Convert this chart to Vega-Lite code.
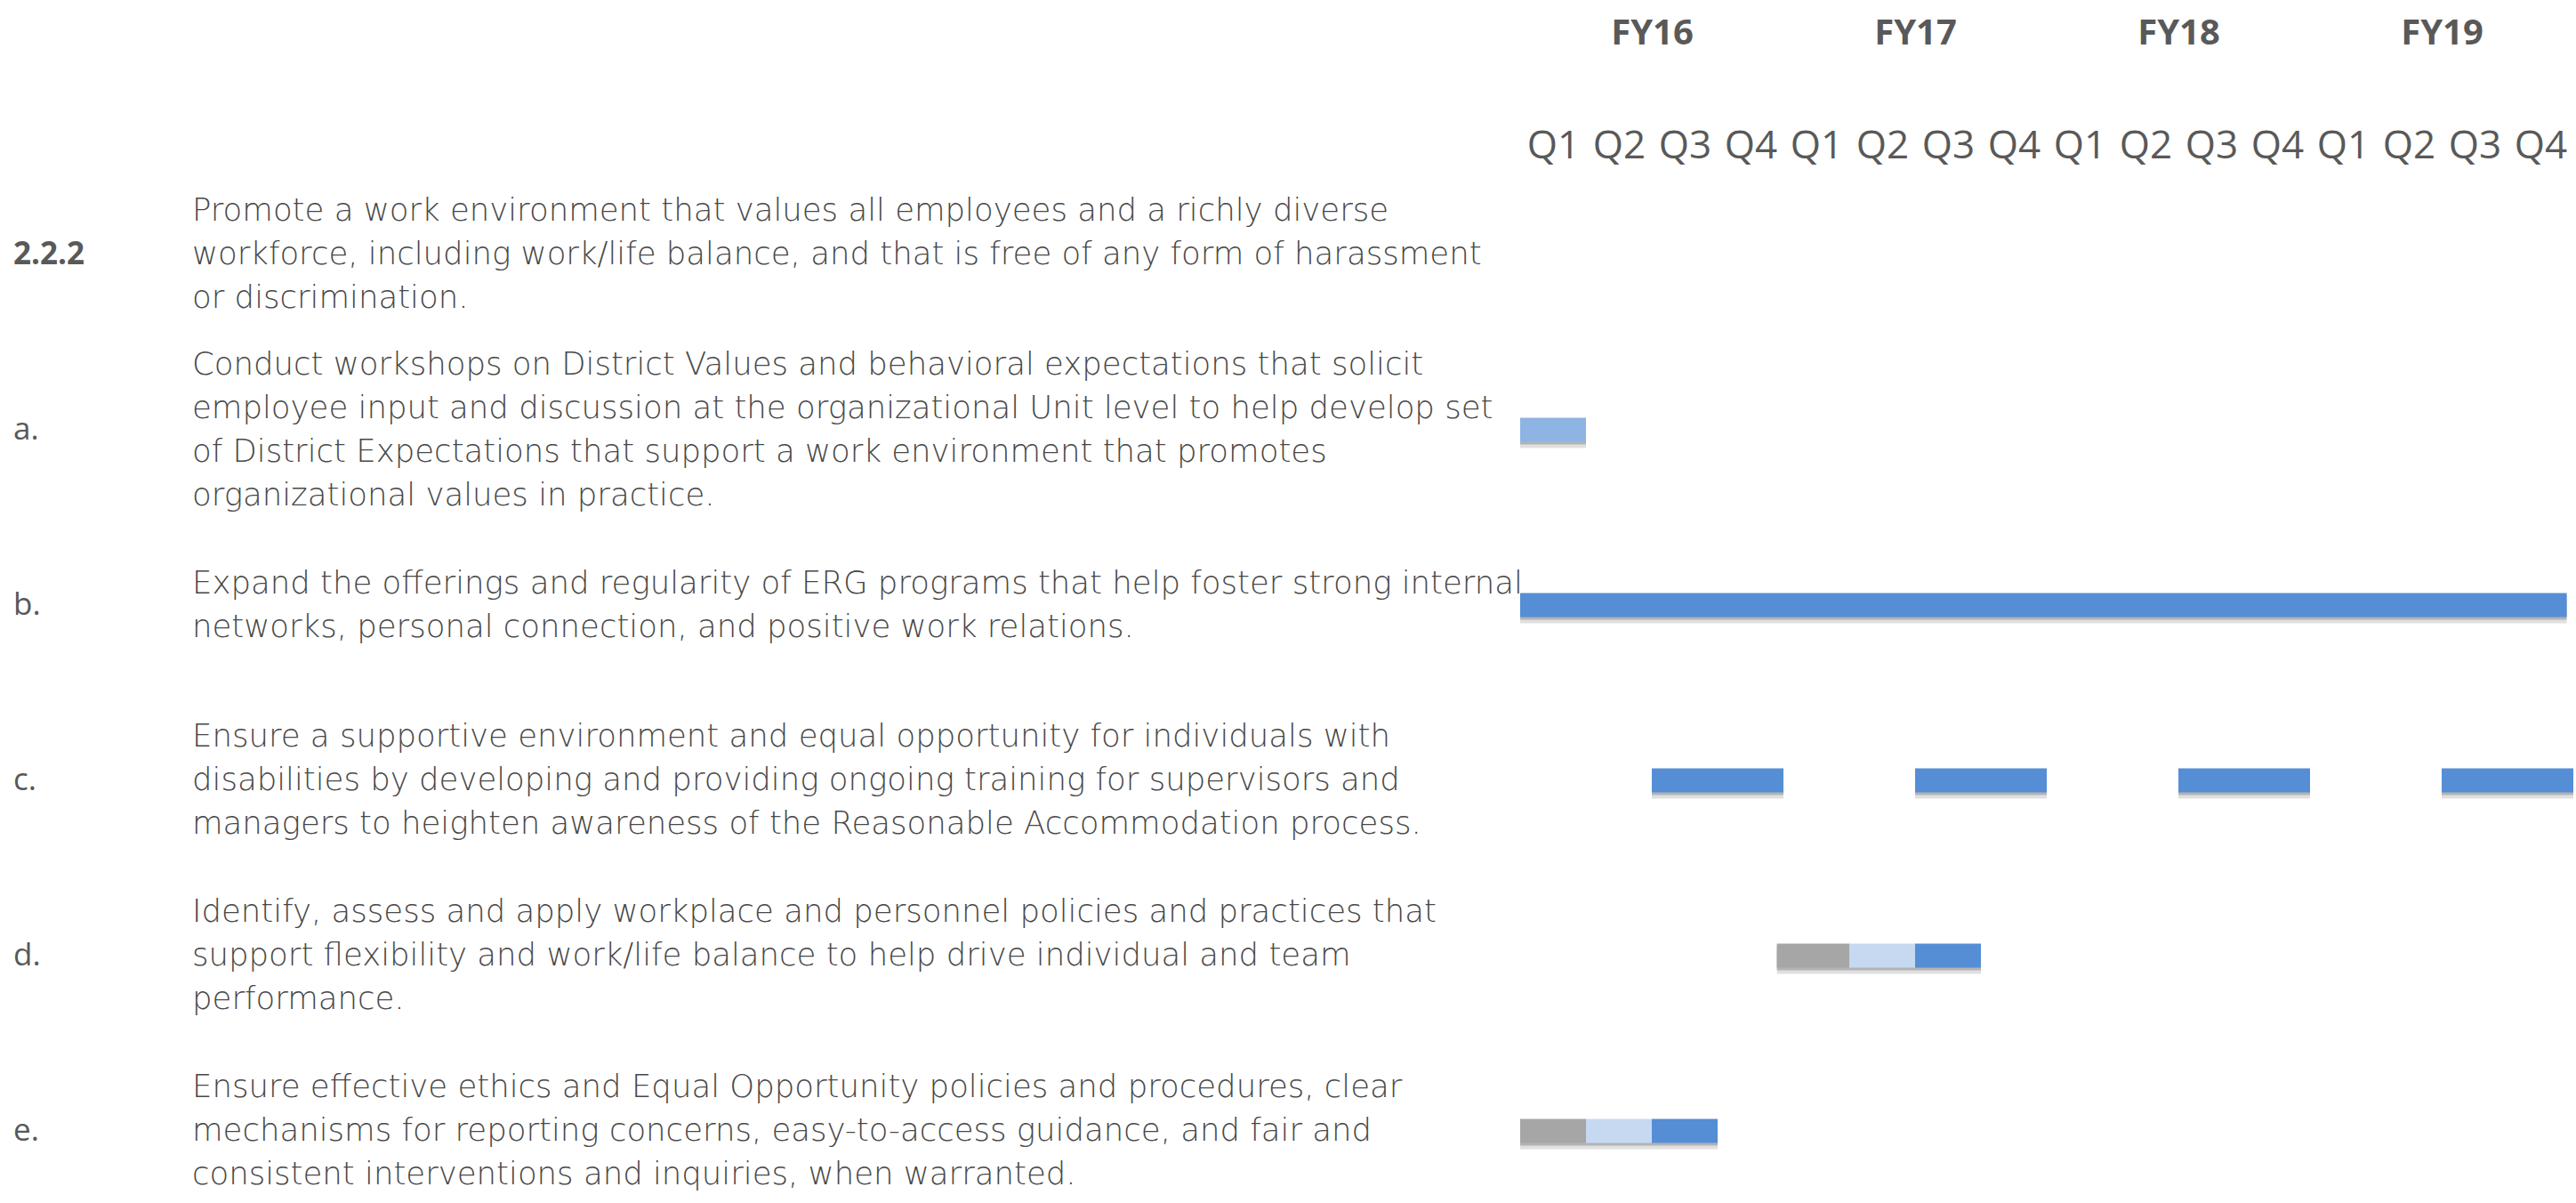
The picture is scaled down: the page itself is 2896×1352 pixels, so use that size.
{
  "$schema": "https://vega.github.io/schema/vega-lite/v6.json",
  "background": "white",
  "padding": {"left": 15, "top": 17, "right": 0, "bottom": 0},
  "bounds": "flush",
  "spacing": 0,
  "config": {
    "view": {"stroke": null},
    "text": {"font": "Open Sans"},
    "axis": {"labelFont": "Open Sans", "grid": false, "domain": false, "ticks": false}
  },
  "datasets": {
    "items": [
      {"item": "2.2.2", "level": "Goal", "desc": "Promote a work environment that values all employees and a richly diverse\nworkforce, including work/life balance, and that is free of any form of harassment\nor discrimination."},
      {"item": "a.", "level": "Action", "desc": "Conduct workshops on District Values and behavioral expectations that solicit\nemployee input and discussion at the organizational Unit level to help develop set\nof  District Expectations that support a work environment that promotes\norganizational values in practice."},
      {"item": "b.", "level": "Action", "desc": "Expand the offerings and regularity of ERG programs that help foster strong internal\nnetworks, personal connection, and positive work relations."},
      {"item": "c.", "level": "Action", "desc": "Ensure a supportive environment and equal opportunity for individuals with\ndisabilities by developing and providing ongoing training for supervisors and\nmanagers to heighten awareness of the Reasonable Accommodation process."},
      {"item": "d.", "level": "Action", "desc": "Identify, assess and apply workplace and personnel policies and practices that\nsupport flexibility and work/life balance to help drive individual and team\nperformance."},
      {"item": "e.", "level": "Action", "desc": "Ensure effective ethics and Equal Opportunity policies and procedures, clear\nmechanisms for reporting concerns, easy-to-access guidance, and fair and\nconsistent interventions and inquiries, when warranted."}
    ],
    "bars": [
      {"item": "a.", "start": 0, "end": 1, "stage": "Workshop"},
      {"item": "b.", "start": 0, "end": 15.9, "stage": "Implement"},
      {"item": "c.", "start": 2, "end": 4, "stage": "Implement"},
      {"item": "c.", "start": 6, "end": 8, "stage": "Implement"},
      {"item": "c.", "start": 10, "end": 12, "stage": "Implement"},
      {"item": "c.", "start": 14, "end": 16, "stage": "Implement"},
      {"item": "d.", "start": 3.9, "end": 5, "stage": "Assess"},
      {"item": "d.", "start": 5, "end": 6, "stage": "Develop"},
      {"item": "d.", "start": 6, "end": 7, "stage": "Implement"},
      {"item": "e.", "start": 0, "end": 1, "stage": "Assess"},
      {"item": "e.", "start": 1, "end": 2, "stage": "Develop"},
      {"item": "e.", "start": 2, "end": 3, "stage": "Implement"}
    ]
  },
  "hconcat": [
    {
      "width": 201,
      "height": 1103,
      "data": {"name": "items"},
      "layer": [
        {
          "transform": [{"filter": "datum.level == 'Goal'"}],
          "mark": {"type": "text", "align": "left", "baseline": "middle", "fontSize": 35, "fontWeight": "bold", "color": "#595959"},
          "encoding": {
            "x": {"value": 0},
            "y": {"field": "item", "type": "nominal", "scale": {"type": "point", "domain": ["2.2.2", "a.", "b.", "c.", "d.", "e."], "padding": 0.3}, "axis": null},
            "text": {"field": "item"}
          }
        },
        {
          "transform": [{"filter": "datum.level == 'Action'"}],
          "mark": {"type": "text", "align": "left", "baseline": "middle", "fontSize": 35, "color": "#595959"},
          "encoding": {
            "x": {"value": 0},
            "y": {"field": "item", "type": "nominal", "scale": {"type": "point", "domain": ["2.2.2", "a.", "b.", "c.", "d.", "e."], "padding": 0.3}, "axis": null},
            "text": {"field": "item"}
          }
        }
      ]
    },
    {
      "width": 1493,
      "height": 1103,
      "data": {"name": "items"},
      "encoding": {
        "x": {"value": 0},
        "y": {"field": "item", "type": "nominal", "scale": {"type": "point", "domain": ["2.2.2", "a.", "b.", "c.", "d.", "e."], "padding": 0.3}, "axis": null},
        "text": {"field": "desc"}
      },
      "layer": [
        {
          "transform": [{"filter": "length(split(datum.desc, '\\n')) == 2"}],
          "mark": {"type": "text", "align": "left", "baseline": "middle", "font": "DejaVu Sans", "fontSize": 35.5, "fontWeight": 200, "lineBreak": "\n", "lineHeight": 49, "dy": -24.5, "color": "#484848"}
        },
        {
          "transform": [{"filter": "length(split(datum.desc, '\\n')) == 3"}],
          "mark": {"type": "text", "align": "left", "baseline": "middle", "font": "DejaVu Sans", "fontSize": 35.5, "fontWeight": 200, "lineBreak": "\n", "lineHeight": 49, "dy": -49, "color": "#484848"}
        },
        {
          "transform": [{"filter": "length(split(datum.desc, '\\n')) == 4"}],
          "mark": {"type": "text", "align": "left", "baseline": "middle", "font": "DejaVu Sans", "fontSize": 35.5, "fontWeight": 200, "lineBreak": "\n", "lineHeight": 49, "dy": -73.5, "color": "#484848"}
        }
      ]
    },
    {
      "width": 1184,
      "height": 1103,
      "data": {"name": "bars"},
      "resolve": {"axis": {"x": "independent"}},
      "layer": [
        {
          "mark": {"type": "bar", "color": "#000000", "opacity": 0.12, "yOffset": 7, "height": 27},
          "encoding": {
            "x": {"field": "start", "type": "quantitative", "scale": {"domain": [0, 16], "nice": false, "zero": false},
              "axis": {"orient": "top", "values": [2, 6, 10, 14], "labelExpr": "'FY' + (16 + floor(datum.value / 4))", "labelFontSize": 40, "labelFontWeight": "bold", "labelColor": "#595959", "labelPadding": 190, "tickSize": 0, "labelFlush": false, "labelOverlap": false, "labelBound": false, "labelBaseline": "middle", "title": null}},
            "x2": {"field": "end"},
            "y": {"field": "item", "type": "nominal", "scale": {"type": "point", "domain": ["2.2.2", "a.", "b.", "c.", "d.", "e."], "padding": 0.3}, "axis": null}
          }
        },
        {
          "mark": {"type": "bar", "color": "#000000", "opacity": 0.2, "yOffset": 3, "height": 27},
          "encoding": {
            "x": {"field": "start", "type": "quantitative", "scale": {"domain": [0, 16], "nice": false, "zero": false}, "axis": null},
            "x2": {"field": "end"},
            "y": {"field": "item", "type": "nominal", "scale": {"type": "point", "domain": ["2.2.2", "a.", "b.", "c.", "d.", "e."], "padding": 0.3}, "axis": null}
          }
        },
        {
          "mark": {"type": "bar", "height": 27},
          "encoding": {
            "x": {"field": "start", "type": "quantitative", "scale": {"domain": [0, 16], "nice": false, "zero": false},
              "axis": {"orient": "top", "values": [0.5, 1.5, 2.5, 3.5, 4.5, 5.5, 6.5, 7.5, 8.5, 9.5, 10.5, 11.5, 12.5, 13.5, 14.5, 15.5], "labelExpr": "'Q' + (floor(datum.value) % 4 + 1)", "labelFontSize": 44, "labelColor": "#595959", "labelPadding": 63, "tickSize": 0, "labelFlush": false, "labelOverlap": false, "labelBound": false, "labelBaseline": "middle", "title": null}},
            "x2": {"field": "end"},
            "y": {"field": "item", "type": "nominal", "scale": {"type": "point", "domain": ["2.2.2", "a.", "b.", "c.", "d.", "e."], "padding": 0.3}, "axis": null},
            "color": {"field": "stage", "type": "nominal", "scale": {"domain": ["Assess", "Develop", "Implement", "Workshop"], "range": ["#A6A6A6", "#C6D9F1", "#558ED5", "#8EB4E3"]}, "legend": null}
          }
        }
      ]
    }
  ]
}
